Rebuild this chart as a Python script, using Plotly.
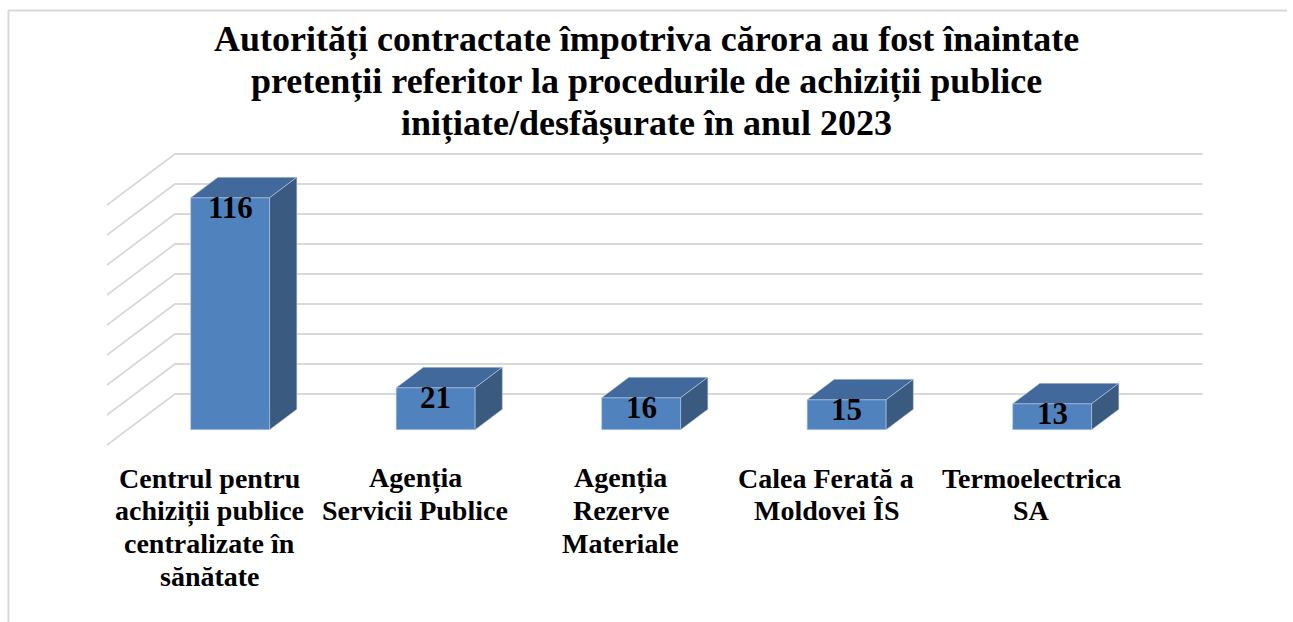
import plotly.graph_objects as go

# ---- data ----
categories = [
    ["Centrul pentru", "achiziții publice", "centralizate în", "sănătate"],
    ["Agenția", "Servicii Publice"],
    ["Agenția", "Rezerve", "Materiale"],
    ["Calea Ferată a", "Moldovei ÎS"],
    ["Termoelectrica", "SA"],
]
values = [116, 21, 16, 15, 13]
grid_values = [0, 15, 30, 45, 60, 75, 90, 105, 120]
title_lines = [
    "Autorități contractate împotriva cărora au fost înaintate",
    "pretenții referitor la procedurile de achiziții publice",
    "inițiate/desfășurate în anul 2023",
]

# ---- layout / 3D projection constants ----
W, H = 1293, 622
X0_PX, CAT_PX = 107.0, 205.5      # floor front-left pixel, pixels per category
Y0_PX, VAL_PX = 445.0, 2.0        # floor front pixel, pixels per value unit
DX = 68.0 / CAT_PX                # full depth offset (category units)
DY = 51.0 / VAL_PX                # full depth offset (value units)
D0, D1 = 0.3, 0.7                 # bar front/back depth fractions
HW = 39.5 / CAT_PX                # half bar width

FRONT = "#5082BE"
TOP = "#42699B"
SIDE = "#3B5A80"
EDGE = "rgba(190,210,235,0.55)"
GRID = "#D9D9D9"
FONT = "Times New Roman, Liberation Serif, DejaVu Serif, serif"

fig = go.Figure()

# gridlines: back wall and left side wall
n = len(values)
for g in grid_values:
    fig.add_trace(go.Scatter(
        x=[0, DX, n + DX], y=[g, DY + g, DY + g], mode="lines",
        line=dict(color=GRID, width=1.8), hoverinfo="skip", showlegend=False))

# bars
for i, v in enumerate(values):
    c = i + 0.5 + D0 * DX
    ddx = (D1 - D0) * DX
    yb0 = D0 * DY
    yb1 = D1 * DY
    # front face
    fig.add_trace(go.Scatter(
        x=[c - HW, c + HW, c + HW, c - HW, c - HW],
        y=[yb0, yb0, yb0 + v, yb0 + v, yb0],
        fill="toself", fillcolor=FRONT, mode="lines",
        line=dict(color=EDGE, width=1), hoverinfo="skip", showlegend=False))
    # top face
    fig.add_trace(go.Scatter(
        x=[c - HW, c + HW, c + HW + ddx, c - HW + ddx, c - HW],
        y=[yb0 + v, yb0 + v, yb1 + v, yb1 + v, yb0 + v],
        fill="toself", fillcolor=TOP, mode="lines",
        line=dict(color=EDGE, width=1), hoverinfo="skip", showlegend=False))
    # side face
    fig.add_trace(go.Scatter(
        x=[c + HW, c + HW + ddx, c + HW + ddx, c + HW, c + HW],
        y=[yb0, yb1, yb1 + v, yb0 + v, yb0],
        fill="toself", fillcolor=SIDE, mode="lines",
        line=dict(color=EDGE, width=1), hoverinfo="skip", showlegend=False))
    # value label
    fig.add_annotation(
        x=c, y=yb0 + v, xref="x", yref="y", text=f"<b>{v}</b>",
        showarrow=False, yanchor="middle", yshift=-10,
        font=dict(family=FONT, size=31, color="black"))

# category labels (one annotation per line)
for i, lines in enumerate(categories):
    for k, t in enumerate(lines):
        py = 478 + 32.7 * k
        fig.add_annotation(
            x=i + 0.5, y=1 - py / H, xref="x", yref="paper", text=f"<b>{t}</b>",
            showarrow=False, yanchor="middle", xanchor="center",
            font=dict(family=FONT, size=28, color="black"))

# title (one annotation per line)
for k, t in enumerate(title_lines):
    py = 39 + 42 * k
    fig.add_annotation(
        x=0.5, y=1 - py / H, xref="paper", yref="paper", text=f"<b>{t}</b>",
        showarrow=False, yanchor="middle", xanchor="center",
        font=dict(family=FONT, size=36, color="black"))

# outer frame (top and left)
fig.add_shape(type="line", xref="paper", yref="paper",
              x0=8 / W, x1=1287 / W, y0=1 - 10.5 / H, y1=1 - 10.5 / H,
              line=dict(color="#D9D9D9", width=2))
fig.add_shape(type="line", xref="paper", yref="paper",
              x0=8.5 / W, x1=8.5 / W, y0=1 - 10 / H, y1=0,
              line=dict(color="#D9D9D9", width=2))

fig.update_layout(
    width=W, height=H,
    margin=dict(l=0, r=0, t=0, b=0),
    paper_bgcolor="white", plot_bgcolor="white",
    showlegend=False,
    xaxis=dict(range=[-X0_PX / CAT_PX, (W - X0_PX) / CAT_PX], visible=False,
               fixedrange=True),
    yaxis=dict(range=[(Y0_PX - H) / VAL_PX, Y0_PX / VAL_PX], visible=False,
               fixedrange=True),
)

fig.write_html("out.html",
               config={"displayModeBar": False},
               post_script="document.body.style.margin='0';document.body.style.overflow='hidden';")
